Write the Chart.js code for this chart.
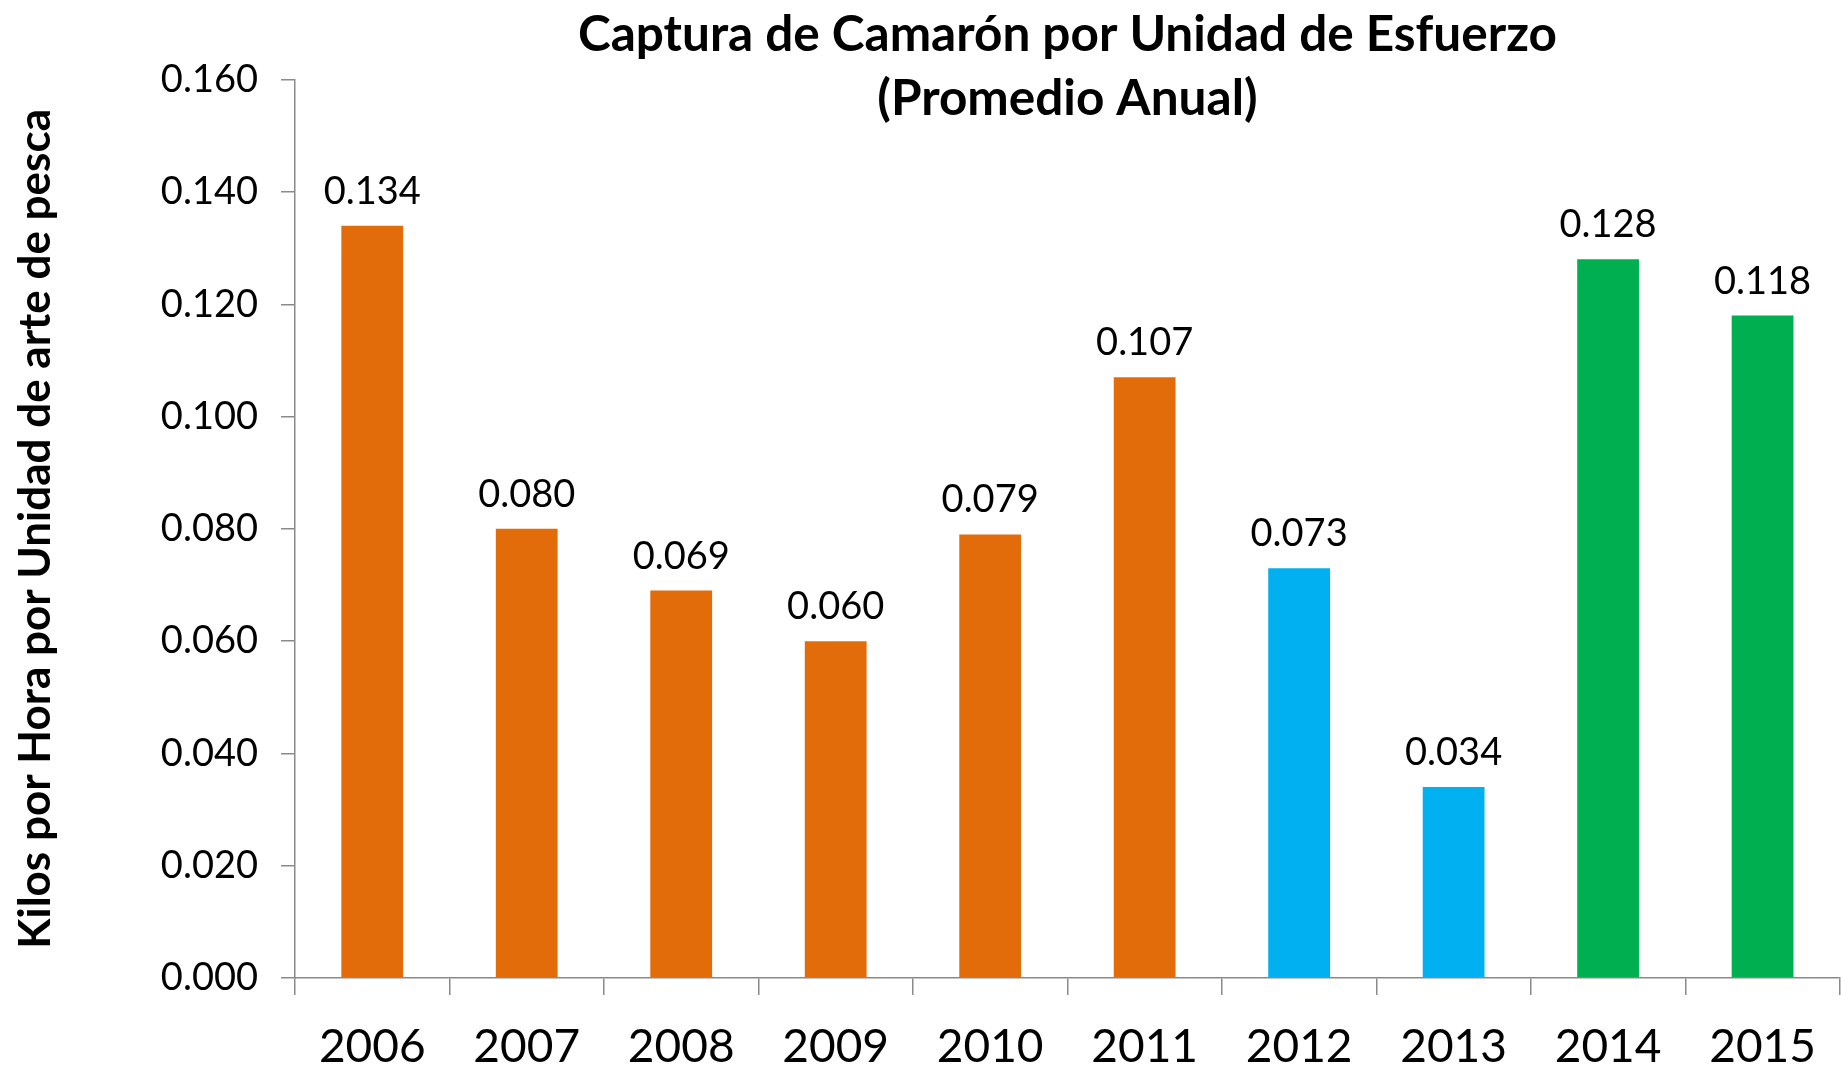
<!DOCTYPE html>
<html>
<head>
<meta charset="utf-8">
<script src="https://cdn.jsdelivr.net/npm/chart.js@4.4.0/dist/chart.umd.min.js"></script>
<style>
  html, body { margin: 0; padding: 0; background: #ffffff; }
  #wrap { width: 1841px; height: 1069px; position: relative; }
</style>
</head>
<body>
<div id="wrap"><canvas id="c" width="1841" height="1069"></canvas></div>
<script>
const categories = ['2006', '2007', '2008', '2009', '2010', '2011', '2012', '2013', '2014', '2015'];
const values = [0.134, 0.080, 0.069, 0.060, 0.079, 0.107, 0.073, 0.034, 0.128, 0.118];
const yTicks = [0, 0.02, 0.04, 0.06, 0.08, 0.10, 0.12, 0.14, 0.16];
const barColors = ['#E36C0A', '#E36C0A', '#E36C0A', '#E36C0A', '#E36C0A', '#E36C0A', '#00B0F0', '#00B0F0', '#00B050', '#00B050'];
const titleLines = ['Captura de Camarón por Unidad de Esfuerzo', '(Promedio Anual)'];
const yTitle = 'Kilos por Hora por Unidad de arte de pesca';

const FONT = 'Lato, "Open Sans", "DejaVu Sans", sans-serif';
const AXIS = '#8a8a8a';

const valueLabels = {
  id: 'valueLabels',
  afterDatasetsDraw(chart) {
    const ctx = chart.ctx;
    const meta = chart.getDatasetMeta(0);
    ctx.save();
    ctx.font = '38px ' + FONT;
    ctx.fillStyle = '#000000';
    ctx.textAlign = 'center';
    ctx.textBaseline = 'alphabetic';
    meta.data.forEach((bar, i) => {
      ctx.fillText(values[i].toFixed(3), bar.x, bar.y - 22);
    });
    ctx.restore();
  }
};

new Chart(document.getElementById('c'), {
  type: 'bar',
  data: {
    labels: categories,
    datasets: [{
      data: values,
      backgroundColor: barColors,
      borderWidth: 0,
      barPercentage: 0.4,
      categoryPercentage: 1.0
    }]
  },
  options: {
    responsive: false,
    animation: false,
    layout: { padding: { left: 0, right: 0, top: 0, bottom: 0 } },
    plugins: {
      legend: { display: false },
      tooltip: { enabled: false },
      title: {
        display: true,
        fullSize: false,
        text: titleLines,
        color: '#000000',
        font: { family: FONT, size: 49.5, weight: 'bold', lineHeight: 1.29 },
        padding: { top: 3, bottom: -51 }
      }
    },
    scales: {
      x: {
        offset: true,
        border: { display: true, color: AXIS, width: 1.5 },
        grid: {
          display: true, offset: true, drawOnChartArea: false, drawTicks: true,
          tickLength: 17, color: AXIS, lineWidth: 1.5
        },
        ticks: { color: '#000000', font: { family: FONT, size: 46 }, padding: 25, maxRotation: 0 },
        afterFit(scale) { scale.height = 91; }
      },
      y: {
        min: 0,
        max: 0.16,
        border: { display: true, color: AXIS, width: 1.5 },
        grid: {
          display: true, drawOnChartArea: false, drawTicks: true,
          tickLength: 14, color: AXIS, lineWidth: 1.5
        },
        afterBuildTicks(scale) { scale.ticks = yTicks.map(v => ({ value: v })); },
        ticks: {
          color: '#000000',
          font: { family: FONT, size: 38 },
          padding: 23,
          callback: (v) => Number(v).toFixed(3)
        },
        title: {
          display: true,
          text: yTitle,
          color: '#000000',
          font: { family: FONT, size: 44, weight: 'bold', lineHeight: 1.2 },
          padding: { top: 9, bottom: 0 }
        },
        afterFit(scale) { scale.width = 295; }
      }
    }
  },
  plugins: [valueLabels]
});
</script>
</body>
</html>
